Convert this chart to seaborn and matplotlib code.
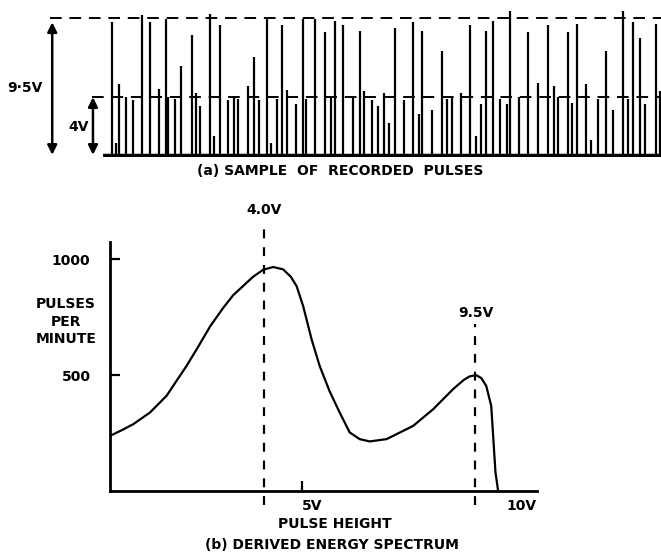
import matplotlib
matplotlib.use("Agg")
import matplotlib.pyplot as plt
import matplotlib.transforms as mtransforms
import numpy as np
import pandas as pd
import seaborn as sns

# (a) recorded pulses: time position (arbitrary units) and pulse height (V)
pulse_times = [9, 13, 16, 23, 30, 39, 47, 56, 63, 65,
               72, 78, 89, 93, 97, 107, 111, 117, 125, 131,
               135, 145, 151, 156, 164, 168, 174, 179, 184, 193,
               200, 203, 212, 222, 228, 232, 240, 250, 257, 261,
               269, 275, 281, 286, 292, 301, 310, 316, 319, 329,
               339, 344, 349, 358, 367, 373, 378, 383, 390, 397,
               404, 407, 416, 425, 435, 445, 451, 455, 465, 469,
               474, 483, 488, 495, 503, 510, 520, 525, 530, 537,
               542, 553, 557]
pulse_heights = [9.2, 0.8, 4.9, 4.0, 3.8, 9.7, 9.2, 4.6, 9.4, 4.0,
                 3.9, 6.2, 8.3, 4.3, 3.4, 9.8, 1.3, 9.0, 3.8, 4.0,
                 3.9, 4.8, 6.8, 3.8, 9.4, 0.85, 3.9, 9.0, 4.5, 3.5,
                 9.4, 3.9, 9.4, 8.5, 4.0, 9.3, 9.0, 4.0, 8.6, 4.4,
                 3.8, 3.4, 4.3, 2.2, 8.8, 3.8, 9.2, 2.8, 8.6, 3.1,
                 7.2, 3.9, 4.0, 4.3, 9.0, 1.3, 3.5, 8.6, 9.3, 3.9,
                 3.5, 10.0, 4.0, 8.5, 5.0, 9.0, 4.8, 4.0, 8.5, 3.6,
                 9.1, 4.9, 1.0, 3.9, 7.2, 3.1, 10.0, 3.9, 9.2, 8.1,
                 3.5, 9.1, 4.4]
levels = [4.0, 9.5]

# (b) derived energy spectrum
pulse_height_v = [0.0, 0.3, 0.61, 1.04, 1.47, 1.99, 2.3, 2.6, 2.94, 3.2,
                  3.46, 3.72, 3.98, 4.24, 4.50, 4.7, 4.85, 5.02, 5.24, 5.45,
                  5.71, 5.97, 6.23, 6.49, 6.75, 7.19, 7.88, 8.40, 8.92, 9.2,
                  9.35, 9.52, 9.65, 9.78, 9.91, 9.96, 10.02, 10.09]
pulses_per_minute = [238, 262, 289, 339, 411, 540, 625, 710, 790, 845,
                     885, 925, 955, 967, 957, 925, 885, 799, 655, 540,
                     430, 339, 253, 224, 214, 224, 281, 353, 440, 480,
                     495, 500, 488, 454, 368, 238, 81, 0]
peak_marks = [4.0, 9.5]
peak_labels = ["4.0V", "9.5V"]
x_ticks = [5, 10.3]
x_ticklabels = ["5V", "10V"]
y_ticks = [500, 1000]

sns.set_style("white")
plt.rcParams["font.family"] = ["DejaVu Sans"]
plt.rcParams["font.weight"] = "bold"
plt.rcParams["text.color"] = "black"
plt.rcParams["xtick.color"] = "black"
plt.rcParams["ytick.color"] = "black"
plt.rcParams["xtick.labelcolor"] = "black"
plt.rcParams["ytick.labelcolor"] = "black"
FS = 10

fig = plt.figure(figsize=(6.61, 5.56), dpi=100)

# ---------------- (a) ----------------
ax1 = fig.add_axes([103 / 661, 1 - 157 / 556, 558 / 661, 152 / 556])
ax1.set_xlim(0, 558)
ax1.set_ylim(-0.15, 10.4)
ax1.axis("off")
ax1.vlines(pulse_times, 0, pulse_heights, color="black", lw=1.6)
ax1.axhline(0, color="black", lw=2.5)
tr1 = mtransforms.blended_transform_factory(ax1.transAxes, ax1.transData)
ax1.plot([-0.095, 1], [levels[1]] * 2, transform=tr1, clip_on=False,
         color="black", lw=1.4, ls=(0, (6, 4)))
ax1.plot([-0.02, 1], [levels[0]] * 2, transform=tr1, clip_on=False,
         color="black", lw=1.4, ls=(0, (6, 4)))
arrow = dict(arrowstyle="<|-|>", color="black", lw=1.8, mutation_scale=14,
             shrinkA=0, shrinkB=0)
ax1.annotate("", xy=(-0.091, 0), xytext=(-0.091, levels[1] - 0.3),
             xycoords=tr1, textcoords=tr1, arrowprops=arrow, annotation_clip=False)
ax1.annotate("", xy=(-0.018, 0), xytext=(-0.018, levels[0]),
             xycoords=tr1, textcoords=tr1, arrowprops=arrow, annotation_clip=False)
ax1.text(-0.14, 4.65, "9·5V", transform=tr1, ha="center", va="center", fontsize=FS)
ax1.text(-0.043, 1.9, "4V", transform=tr1, ha="center", va="center", fontsize=FS)
fig.text(340 / 661, 1 - 171 / 556, "(a) SAMPLE  OF  RECORDED  PULSES",
         ha="center", va="center", fontsize=FS)

# ---------------- (b) ----------------
ax2 = fig.add_axes([110 / 661, 1 - 491 / 556, 427 / 661, 249 / 556])
spec = pd.DataFrame({"v": pulse_height_v, "ppm": pulses_per_minute})
sns.lineplot(data=spec, x="v", y="ppm", ax=ax2, color="black", lw=1.6, sort=False)
ax2.set_xlim(0, 11.1)
ax2.set_ylim(0, 1075)
for s in ["top", "right"]:
    ax2.spines[s].set_visible(False)
for s in ["left", "bottom"]:
    ax2.spines[s].set_linewidth(2)
    ax2.spines[s].set_color("black")
ax2.set_xticks(x_ticks)
ax2.set_xticklabels(x_ticklabels, fontsize=FS)
ax2.set_yticks(y_ticks)
ax2.set_yticklabels([str(v) for v in y_ticks], fontsize=FS)
ax2.tick_params(axis="both", direction="in", length=7, width=1.6, color="black",
                left=True, bottom=True)
ax2.tick_params(axis="y", pad=14)
ax2.tick_params(axis="x", pad=6)
ax2.xaxis.get_major_ticks()[1].tick1line.set_visible(False)
for lbl in ax2.get_xticklabels():
    lbl.set_horizontalalignment("left")
ax2.set_xlabel("")
ax2.set_ylabel("")

tops = [1163, 720]
for x, top, lab, lab_y in zip(peak_marks, tops, peak_labels, [1215, 770]):
    ax2.plot([x, x], [-60, top], color="black", lw=1.6, ls=(0, (4, 4)), clip_on=False)
    ax2.text(x, lab_y, lab, ha="center", va="center", fontsize=FS)

ax2.text(-0.103, 0.68, "PULSES\nPER\nMINUTE", transform=ax2.transAxes,
         ha="center", va="center", fontsize=FS, linespacing=1.3)
fig.text(335 / 661, 1 - 524 / 556, "PULSE HEIGHT", ha="center", va="center", fontsize=FS)
fig.text(332 / 661, 1 - 545 / 556, "(b) DERIVED ENERGY SPECTRUM",
         ha="center", va="center", fontsize=FS)

fig.savefig("out.png", dpi=100)
